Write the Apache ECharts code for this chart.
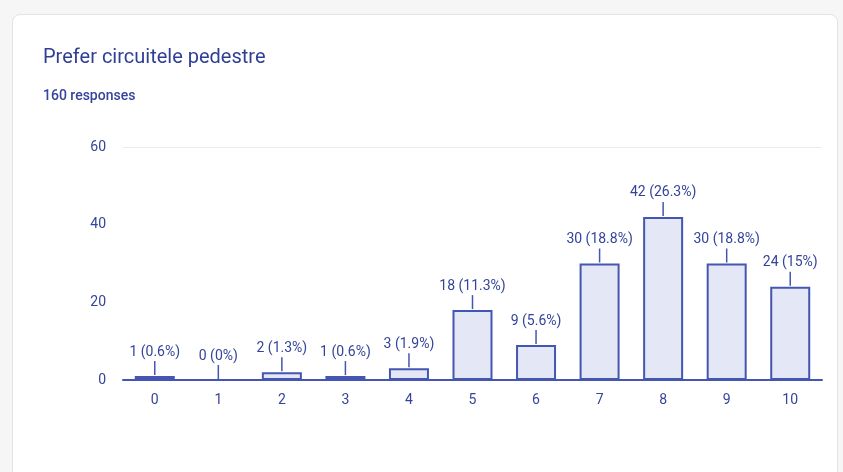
<!DOCTYPE html>
<html>
<head>
<meta charset="utf-8">
<script src="https://cdn.jsdelivr.net/npm/echarts@6/dist/echarts.min.js"></script>
<style>
    html, body {
        margin: 0;
        padding: 0;
        background: #f6f6f6;
    }
    .card {
        position: absolute;
        left: 12px;
        top: 14px;
        width: 824px;
        height: 470px;
        background: #ffffff;
        border: 1px solid #e3e3e3;
        border-radius: 8px;
    }
    #chart {
        position: absolute;
        left: 0;
        top: 0;
        width: 843px;
        height: 472px;
    }
</style>
</head>
<body>
<div class="card"></div>
<div id="chart"></div>
<script>
    // answers on a 0..10 scale
    var categories = ['0', '1', '2', '3', '4', '5', '6', '7', '8', '9', '10'];
    var counts = [1, 0, 2, 1, 3, 18, 9, 30, 42, 30, 24];
    var percents = ['0.6%', '0%', '1.3%', '0.6%', '1.9%', '11.3%', '5.6%', '18.8%', '26.3%', '18.8%', '15%'];
    var yTicks = [0, 20, 40, 60];

    var textColor = '#34449a';
    var barBorder = '#4456b2';
    var barFill = '#e4e7f6';

    var chart = echarts.init(document.getElementById('chart'));

    var option = {
        animation: false,
        textStyle: {fontFamily: 'Roboto'},
        title: [
            {
                text: 'Prefer circuitele pedestre',
                left: 43,
                top: 48,
                padding: 0,
                textStyle: {fontSize: 20, fontWeight: 'normal', color: '#2f3f94', fontFamily: 'Roboto'}
            },
            {
                text: '160 responses',
                left: 43,
                top: 89,
                padding: 0,
                textStyle: {fontSize: 14, fontWeight: 500, color: '#34449a', fontFamily: 'Roboto'}
            }
        ],
        grid: {
            left: 123,
            right: 21,
            top: 147,
            bottom: 92
        },
        xAxis: {
            type: 'category',
            data: categories,
            axisLine: {lineStyle: {color: barBorder, width: 2}},
            axisTick: {show: false},
            axisLabel: {color: textColor, fontSize: 14, margin: 13}
        },
        yAxis: {
            type: 'value',
            min: yTicks[0],
            max: yTicks[yTicks.length - 1],
            interval: 20,
            axisLine: {show: false},
            axisTick: {show: false},
            axisLabel: {color: textColor, fontSize: 14, margin: 17},
            splitLine: {lineStyle: {color: ['#ffffff', '#ffffff', '#ffffff', '#ebebeb']}}
        },
        series: [
            {
                type: 'bar',
                data: counts,
                barWidth: 40,
                itemStyle: {color: barFill, borderColor: barBorder, borderWidth: 2}
            },
            {
                // small leader line + value label above each bar
                type: 'custom',
                data: counts.map(function (v, i) { return [i, v]; }),
                renderItem: function (params, api) {
                    var p = api.coord([api.value(0), api.value(1)]);
                    var i = params.dataIndex;
                    return {
                        type: 'group',
                        children: [
                            {
                                type: 'line',
                                shape: {x1: p[0], y1: p[1] - 1, x2: p[0], y2: p[1] - 15},
                                style: {stroke: barBorder, lineWidth: 1.5}
                            },
                            {
                                type: 'text',
                                x: p[0],
                                y: p[1] - 24,
                                style: {
                                    text: counts[i] + ' (' + percents[i] + ')',
                                    align: 'center',
                                    verticalAlign: 'middle',
                                    fill: textColor,
                                    fontSize: 14,
                                    fontFamily: 'Roboto'
                                }
                            }
                        ]
                    };
                },
                z: 5
            }
        ]
    };

    chart.setOption(option);
</script>
</body>
</html>
